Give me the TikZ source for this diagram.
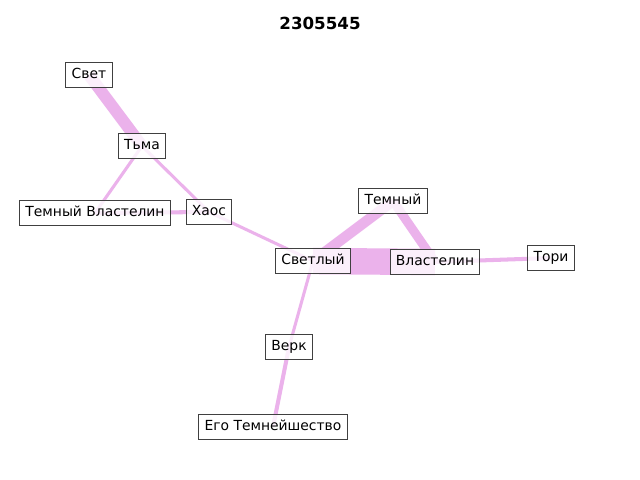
\documentclass[tikz,border=0pt]{standalone}
\usepackage{fontspec}
\setmainfont{DejaVu Sans}
\begin{document}
\begin{tikzpicture}[x=0.72pt,y=-0.72pt,
  lbl/.style={draw=black!75,line width=0.72pt,fill=white,fill opacity=0.8,text opacity=1,
    font=\fontsize{10}{12}\selectfont,inner xsep=4.2pt,inner ysep=0pt,minimum height=17.5pt,text height=7.6pt,text depth=2pt},
  link/.style={draw=linkc,line cap=butt}]
\definecolor{linkc}{RGB}{235,178,235}
\fill[white] (0,0) rectangle (640,480);
\useasboundingbox (0,0) rectangle (640,480);
\node[font=\bfseries\fontsize{12}{14}\selectfont] (title) at (320,23) {2305545};
% node positions
\coordinate (svet) at (89,75);
\coordinate (tma) at (142,146);
\coordinate (tv) at (95,213);
\coordinate (haos) at (209,212);
\coordinate (temn) at (393,201);
\coordinate (svetl) at (313,261);
\coordinate (vlast) at (435,262);
\coordinate (tori) at (551,258);
\coordinate (verk) at (289,347);
\coordinate (ego) at (273,427);
% connectors
\draw[link,line width=8.5pt] (svet) -- (tma);
\draw[link,line width=2.2pt] (tma) -- (tv);
\draw[link,line width=2.2pt] (tma) -- (haos);
\draw[link,line width=2.9pt] (tv) -- (haos);
\draw[link,line width=2.2pt] (haos) -- (svetl);
\draw[link,line width=7.5pt] (svetl) -- (temn);
\draw[link,line width=6.5pt] (temn) -- (vlast);
\draw[link,line width=19pt] (svetl) -- (vlast);
\draw[link,line width=2.9pt] (vlast) -- (tori);
\draw[link,line width=2.2pt] (svetl) -- (verk);
\draw[link,line width=2.9pt] (verk) -- (ego);
% labels
\node[lbl] (nsvet) at (svet) {Свет};
\node[lbl] (ntma) at (tma) {Тьма};
\node[lbl] (ntv) at (tv) {Темный Властелин};
\node[lbl] (nhaos) at (haos) {Хаос};
\node[lbl] (ntemn) at (temn) {Темный};
\node[lbl] (nsvetl) at (svetl) {Светлый};
\node[lbl] (nvlast) at (vlast) {Властелин};
\node[lbl] (ntori) at (tori) {Тори};
\node[lbl] (nverk) at (verk) {Верк};
\node[lbl] (nego) at (ego) {Его Темнейшество};
\end{tikzpicture}
\end{document}
